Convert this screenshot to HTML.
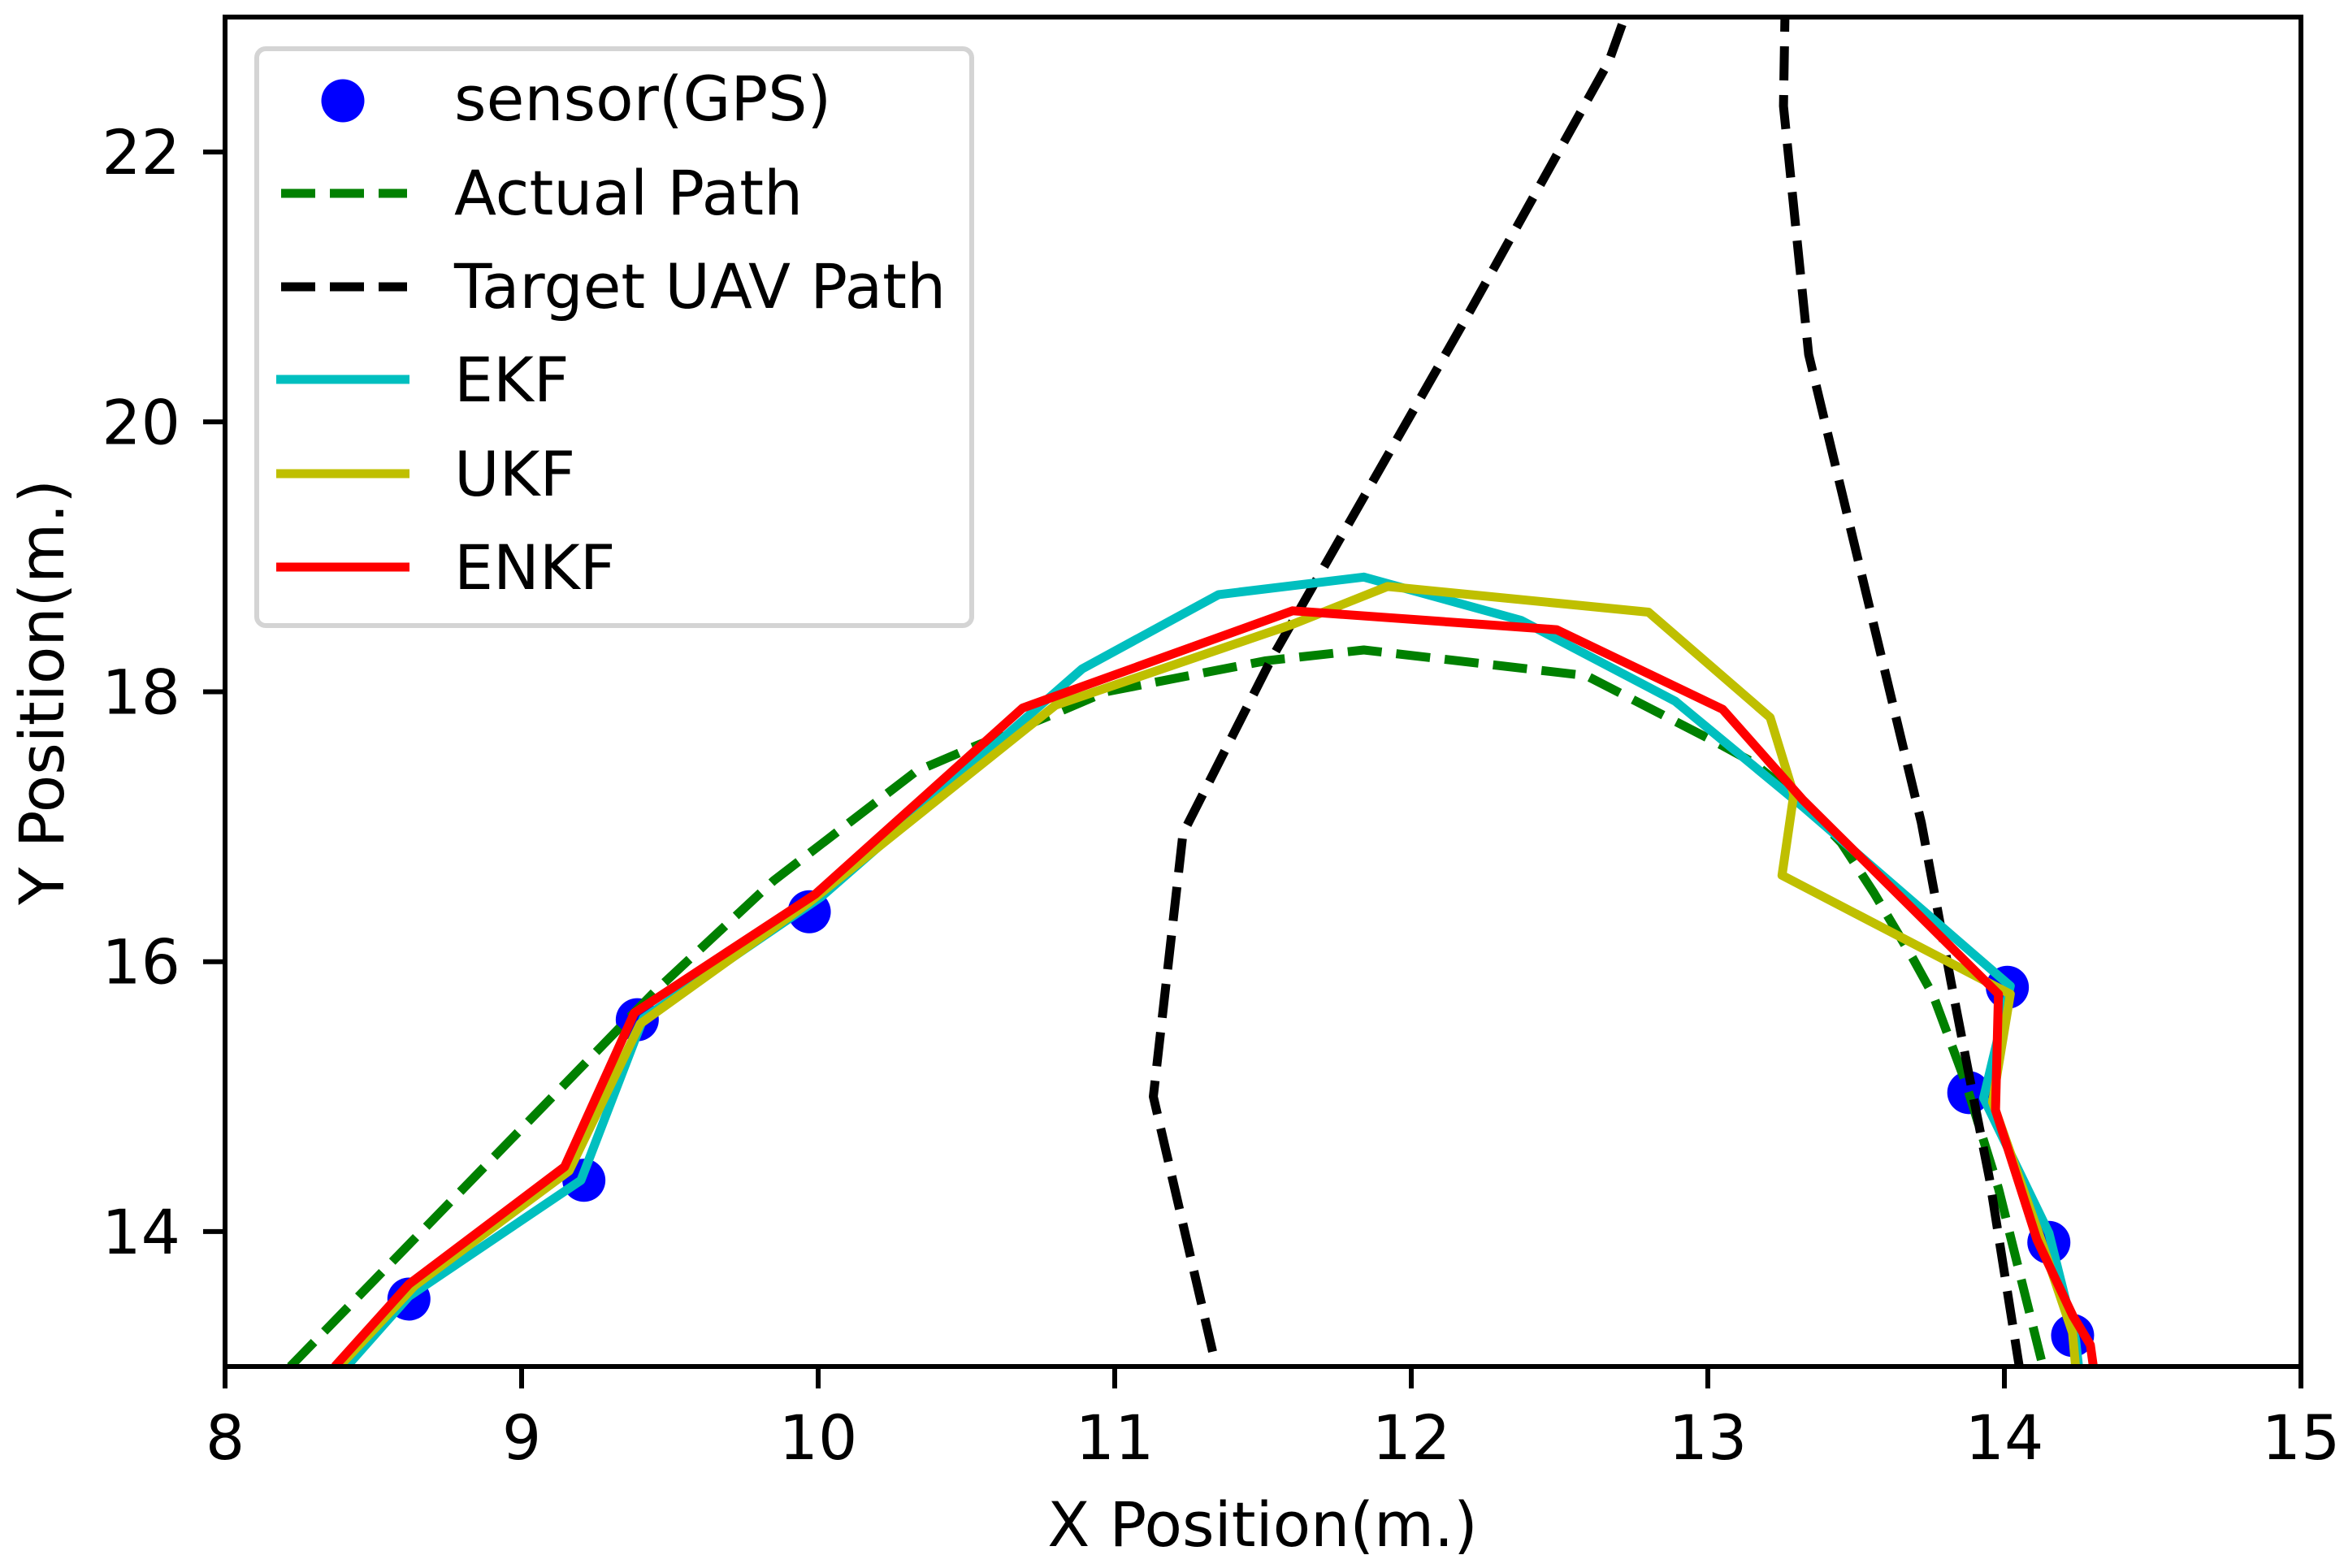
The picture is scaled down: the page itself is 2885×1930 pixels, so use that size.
<!DOCTYPE html>
<html>
<head>
<meta charset="utf-8">
<title>UAV path tracking chart</title>
<style>
html,body{margin:0;padding:0;background:#fff;width:2885px;height:1930px;overflow:hidden}
svg{display:block}
text{font-family:"DejaVu Sans","Liberation Sans",sans-serif;font-size:76px;fill:#000}
</style>
</head>
<body>
<svg id="chart" xmlns="http://www.w3.org/2000/svg" width="2885" height="1930" viewBox="0 0 2885 1930">
  <defs><clipPath id="plot-clip"><rect x="277" y="21" width="2555" height="1661"/></clipPath></defs>
  <rect x="0" y="0" width="2885" height="1930" fill="#fff"/>
  <g id="series" clip-path="url(#plot-clip)"></g>
  <g id="axes"></g>
  <text x="1554" y="1903" text-anchor="middle">X Position(m.)</text>
  <text transform="translate(78,852) rotate(-90)" text-anchor="middle">Y Position(m.)</text>
  <g>
    <rect x="316" y="60" width="880" height="710" rx="11" ry="11" fill="#fff" fill-opacity="0.9" stroke="#d4d4d4" stroke-width="6"/>
    <circle cx="422" cy="124" r="26.5" fill="#0000ff"/>
    <text x="559" y="148">sensor(GPS)</text>
    <line x1="346" y1="238" x2="501" y2="238" stroke="#008000" stroke-width="11" stroke-dasharray="42 18"/>
    <text x="559" y="264">Actual Path</text>
    <line x1="346" y1="353" x2="501" y2="353" stroke="#000" stroke-width="11" stroke-dasharray="42 18"/>
    <text x="559" y="379">Target UAV Path</text>
    <line x1="340" y1="467" x2="504" y2="467" stroke="#00bfbf" stroke-width="11"/>
    <text x="559" y="494">EKF</text>
    <line x1="340" y1="583" x2="504" y2="583" stroke="#bfbf00" stroke-width="11"/>
    <text x="559" y="610">UKF</text>
    <line x1="340" y1="698" x2="504" y2="698" stroke="#ff0000" stroke-width="11"/>
    <text x="559" y="725">ENKF</text>
  </g>
</svg>
<script>
const xTicks = [8, 9, 10, 11, 12, 13, 14, 15];
const yTicks = [14, 16, 18, 20, 22];
const sensorX = [8.62, 9.21, 9.39, 9.97, 14.01, 13.88, 14.15, 14.23];
const sensorY = [13.5, 14.38, 15.57, 16.37, 15.81, 15.03, 13.92, 13.23];
const actualX = [8.22, 9.45, 9.85, 10.33, 10.51, 10.8, 10.97, 11.51, 11.84, 12.59, 13.05, 13.15, 13.32, 13.45, 13.56, 13.69, 13.76, 13.87, 13.98, 14.13];
const actualY = [13, 15.78, 16.6, 17.41, 17.58, 17.84, 18.0, 18.23, 18.31, 18.12, 17.6, 17.48, 17.18, 16.88, 16.51, 16.03, 15.75, 15.1, 14.32, 13];
const targetLeftX = [11.33, 11.13, 11.23, 11.35, 11.53, 12.18, 12.666, 12.72];
const targetLeftY = [13.11, 15, 16.95, 17.47, 18.25, 20.75, 22.67, 23];
const targetRightX = [13.26, 13.255, 13.34, 13.72, 13.82, 13.88, 13.95, 14.05];
const targetRightY = [23, 22.34, 20.5, 17.03, 15.85, 15.17, 14.39, 13];
const ekfX = [8.41, 8.62, 9.2, 9.41, 10.01, 10.89, 11.35, 11.84, 12.37, 12.89, 13.32, 14.02, 13.93, 14.15, 14.24, 14.25];
const ekfY = [13, 13.52, 14.38, 15.58, 16.48, 18.17, 18.72, 18.85, 18.53, 17.93, 17.15, 15.82, 14.99, 13.99, 13.2, 13];
const ukfX = [8.385, 8.64, 9.16, 9.4, 9.97, 10.8, 11.6, 11.92, 12.8, 13.21, 13.29, 13.25, 14.02, 13.96, 14.12, 14.23, 14.24];
const ukfY = [13, 13.6, 14.45, 15.54, 16.44, 17.9, 18.5, 18.78, 18.59, 17.81, 17.24, 16.64, 15.76, 14.96, 13.96, 13.25, 13];
const enkfX = [8.37, 8.62, 9.145, 9.38, 9.99, 10.69, 11.6, 12.49, 13.05, 13.32, 13.98, 13.97, 14.11, 14.23, 14.29, 14.3];
const enkfY = [13, 13.61, 14.48, 15.62, 16.5, 17.88, 18.6, 18.46, 17.87, 17.2, 15.76, 14.9, 13.94, 13.38, 13.16, 13];

const NS = 'http://www.w3.org/2000/svg';
const xMin = 8, xMax = 15, yMin = 13, yMax = 23;
const left = 277, right = 2832, top_ = 21, bottom = 1682;
function xScale(v) { return left + (v - xMin) / (xMax - xMin) * (right - left); }
function yScale(v) { return bottom - (v - yMin) / (yMax - yMin) * (bottom - top_); }
function pathFrom(xs, ys) {
  return xs.map((x, i) => (i ? 'L' : 'M') + xScale(x).toFixed(1) + ' ' + yScale(ys[i]).toFixed(1)).join(' ');
}
function styledPath(xs, ys, color, dash, offset) {
  const p = document.createElementNS(NS, 'path');
  p.setAttribute('d', pathFrom(xs, ys));
  p.setAttribute('fill', 'none');
  p.setAttribute('stroke', color);
  p.setAttribute('stroke-width', '11');
  p.setAttribute('stroke-linejoin', 'round');
  if (dash) p.setAttribute('stroke-dasharray', dash);
  if (offset) p.setAttribute('stroke-dashoffset', offset);
  return p;
}
const series = document.getElementById('series');
const axes = document.getElementById('axes');

sensorX.forEach((x, i) => {
  const c = document.createElementNS(NS, 'circle');
  
  
  c.setAttribute('cx', xScale(x));
  c.setAttribute('cy', yScale(sensorY[i]));
  c.setAttribute('r', 26.5);
  c.setAttribute('fill', '#0000ff');
  series.appendChild(c);
});

const actualLine = styledPath(actualX, actualY, '#008000', '42 18');


series.appendChild(actualLine);

const targetLeftLine = styledPath(targetLeftX, targetLeftY, '#000', '42 18');


series.appendChild(targetLeftLine);

const targetRightLine = styledPath(targetRightX, targetRightY, '#000', '42 18', 24);


series.appendChild(targetRightLine);

const ekfLine = styledPath(ekfX, ekfY, '#00bfbf');


series.appendChild(ekfLine);

const ukfLine = styledPath(ukfX, ukfY, '#bfbf00');


series.appendChild(ukfLine);

const enkfLine = styledPath(enkfX, enkfY, '#ff0000');


series.appendChild(enkfLine);

xTicks.forEach(v => {
  const t = document.createElementNS(NS, 'line');
  
  
  t.setAttribute('x1', xScale(v));
  t.setAttribute('x2', xScale(v));
  t.setAttribute('y1', bottom);
  t.setAttribute('y2', bottom + 27);
  t.setAttribute('stroke', '#000');
  t.setAttribute('stroke-width', '6');
  axes.appendChild(t);
  const l = document.createElementNS(NS, 'text');
  
  
  l.setAttribute('x', xScale(v));
  l.setAttribute('y', 1796);
  l.setAttribute('text-anchor', 'middle');
  l.textContent = String(v);
  axes.appendChild(l);
});

yTicks.forEach(v => {
  const t = document.createElementNS(NS, 'line');
  
  
  t.setAttribute('x1', left - 27);
  t.setAttribute('x2', left);
  t.setAttribute('y1', yScale(v));
  t.setAttribute('y2', yScale(v));
  t.setAttribute('stroke', '#000');
  t.setAttribute('stroke-width', '6');
  axes.appendChild(t);
  const l = document.createElementNS(NS, 'text');
  
  
  l.setAttribute('x', 222);
  l.setAttribute('y', yScale(v) + 27);
  l.setAttribute('text-anchor', 'end');
  l.textContent = String(v);
  axes.appendChild(l);
});

const frame = document.createElementNS(NS, 'rect');


frame.setAttribute('x', left);
frame.setAttribute('y', top_);
frame.setAttribute('width', right - left);
frame.setAttribute('height', bottom - top_);
frame.setAttribute('fill', 'none');
frame.setAttribute('stroke', '#000');
frame.setAttribute('stroke-width', '6');
axes.appendChild(frame);
</script>
</body>
</html>
